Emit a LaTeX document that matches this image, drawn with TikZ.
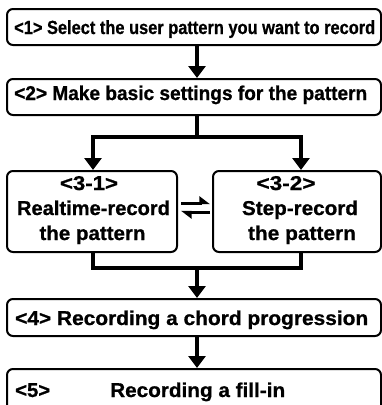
\documentclass[tikz,border=0pt]{standalone}
\usepackage{fontspec}
\usepackage{graphicx}
\setmainfont{Liberation Sans}[BoldFeatures={FakeBold=0.8}]
\usetikzlibrary{arrows.meta}
\newcommand{\fitw}[2]{\resizebox{#1}{\height}{#2}}
\begin{document}
\begin{tikzpicture}[x=1pt,y=-1pt,
  box/.style={draw=black, line width=2pt, rounded corners=6pt, fill=white, inner sep=0pt},
  txt/.style={inner sep=0pt, font=\bfseries\fontsize{20pt}{23pt}\selectfont},
  smalltxt/.style={inner sep=0pt, font=\bfseries\fontsize{19pt}{22pt}\selectfont},
  conn/.style={line width=4.5pt, line join=miter},
  arr/.style={conn, -{Triangle[width=17pt,length=12pt]}},
  harp/.style={line width=3pt, -{Triangle[harpoon,width=13pt,length=9pt]}}]
\clip (0,0) rectangle (382,405);
\fill[white] (0,0) rectangle (382,405);
% boxes
\node[box, minimum width=374pt, minimum height=36pt] (b1) at (194,27) {};
\node[box, minimum width=374pt, minimum height=36pt] (b2) at (194,97) {};
\node[box, minimum width=170pt, minimum height=81pt] (b31) at (92,211.5) {};
\node[box, minimum width=168pt, minimum height=81pt] (b32) at (297,211.5) {};
\node[box, minimum width=374pt, minimum height=37pt] (b4) at (194,317.5) {};
\node[box, minimum width=374pt, minimum height=44pt] (b5) at (194,391) {};
% texts
\node[smalltxt, anchor=base west] (t1) at (14,34) {\fitw{361pt}{<1> Select the user pattern you want to record}};
\node[txt, anchor=base west] (t2) at (14,100) {\fitw{353pt}{<2> Make basic settings for the pattern}};
\node[txt, anchor=base] (t31a) at (89,190) {\fitw{58pt}{<3-1>}};
\node[txt, anchor=base] (t31b) at (93.5,215) {\fitw{153pt}{Realtime-record}};
\node[txt, anchor=base] (t31c) at (92.5,240) {\fitw{106pt}{the pattern}};
\node[txt, anchor=base] (t32a) at (286,190) {\fitw{59pt}{<3-2>}};
\node[txt, anchor=base] (t32b) at (300,215) {\fitw{116pt}{Step-record}};
\node[txt, anchor=base] (t32c) at (302,240) {\fitw{108pt}{the pattern}};
\node[txt, anchor=base west] (t4) at (15,325) {\fitw{353pt}{<4> Recording a chord progression}};
\node[txt, anchor=base west] (t5a) at (15,397) {\fitw{35pt}{<5>}};
\node[txt, anchor=base west] (t5b) at (110,397) {\fitw{175pt}{Recording a fill-in}};
% coordinates
\coordinate (split) at (197,137);
\coordinate (jl) at (93,137);
\coordinate (jr) at (301,137);
\coordinate (ml) at (93,268);
\coordinate (mr) at (301,268);
\coordinate (merge) at (197,268);
\coordinate (h1s) at (181,203);
\coordinate (h1e) at (210,203);
\coordinate (h2s) at (210,212);
\coordinate (h2e) at (181,212);
% connectors
\draw[arr] (b1.south -| split) -- (b2.north -| split);
\draw[conn] (b2.south -| split) -- (split);
\draw[arr] (split) -- (jl) -- (jl |- b31.north);
\draw[arr] (split) -- (jr) -- (jr |- b32.north);
\draw[conn] (b31.south -| ml) -- (ml) -- (mr) -- (b32.south -| mr);
\draw[arr] (merge) -- (b4.north -| merge);
\draw[arr] (b4.south -| split) -- (b5.north -| split);
\draw[harp] (h1s) -- (h1e);
\draw[harp] (h2s) -- (h2e);
\end{tikzpicture}
\end{document}
